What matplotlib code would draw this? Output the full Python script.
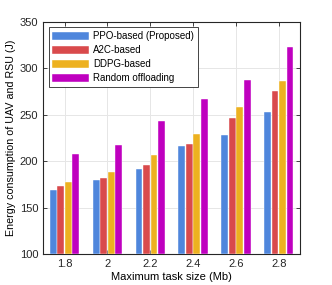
import numpy as np
import matplotlib
matplotlib.use("Agg")
import matplotlib.pyplot as plt

plt.rcParams['font.family'] = ['Liberation Sans', 'DejaVu Sans']

task_sizes = ['1.8', '2', '2.2', '2.4', '2.6', '2.8']
ppo = [169, 180, 192, 216, 228, 253]
a2c = [173, 182, 196, 219, 247, 276]
ddpg = [178, 188, 207, 229, 258, 286]
random_off = [208, 217, 243, 267, 287, 323]

labels = ['PPO-based (Proposed)', 'A2C-based', 'DDPG-based', 'Random offloading']
colors = ['#4f86dc', '#d94a4c', '#edb120', '#bf00bf']

fig = plt.figure(figsize=(3.32, 2.85), dpi=100)
ax = fig.add_axes([0.13, 0.109, 0.774, 0.814])

x = np.arange(len(task_sizes))
slot = 0.175
width = 0.16
for i, (vals, lab, col) in enumerate(zip([ppo, a2c, ddpg, random_off], labels, colors)):
    ax.bar(x + (i - 1.5) * slot, np.array(vals) - 100, width, bottom=100,
           color=col, edgecolor='white', linewidth=0.3, label=lab, zorder=3)

ax.set_xlim(-0.5, len(task_sizes) - 0.5)
ax.set_ylim(100, 350)
ax.set_xticks(x)
ax.set_xticklabels(task_sizes)
ax.set_yticks([100, 150, 200, 250, 300, 350])
ax.tick_params(direction='in', labelsize=8, top=True, right=True, length=3,
               width=0.6, colors='#262626')
ax.grid(True, color='#e6e6e6', linewidth=0.7, zorder=0)
for s in ax.spines.values():
    s.set_linewidth(0.8)
    s.set_color('#262626')

ax.set_xlabel('Maximum task size (Mb)', fontsize=8, labelpad=2)
ax.set_ylabel('Energy consumption of UAV and RSU (J)', fontsize=7.7, labelpad=3)

leg = ax.legend(loc='upper left', fontsize=7, handlelength=3.8, handleheight=1.0,
                labelspacing=0.42, handletextpad=0.4, borderpad=0.4,
                fancybox=False, framealpha=1, borderaxespad=0.55)
leg.get_frame().set_edgecolor('#262626')
leg.get_frame().set_linewidth(0.6)

fig.savefig('out.png', dpi=100)
